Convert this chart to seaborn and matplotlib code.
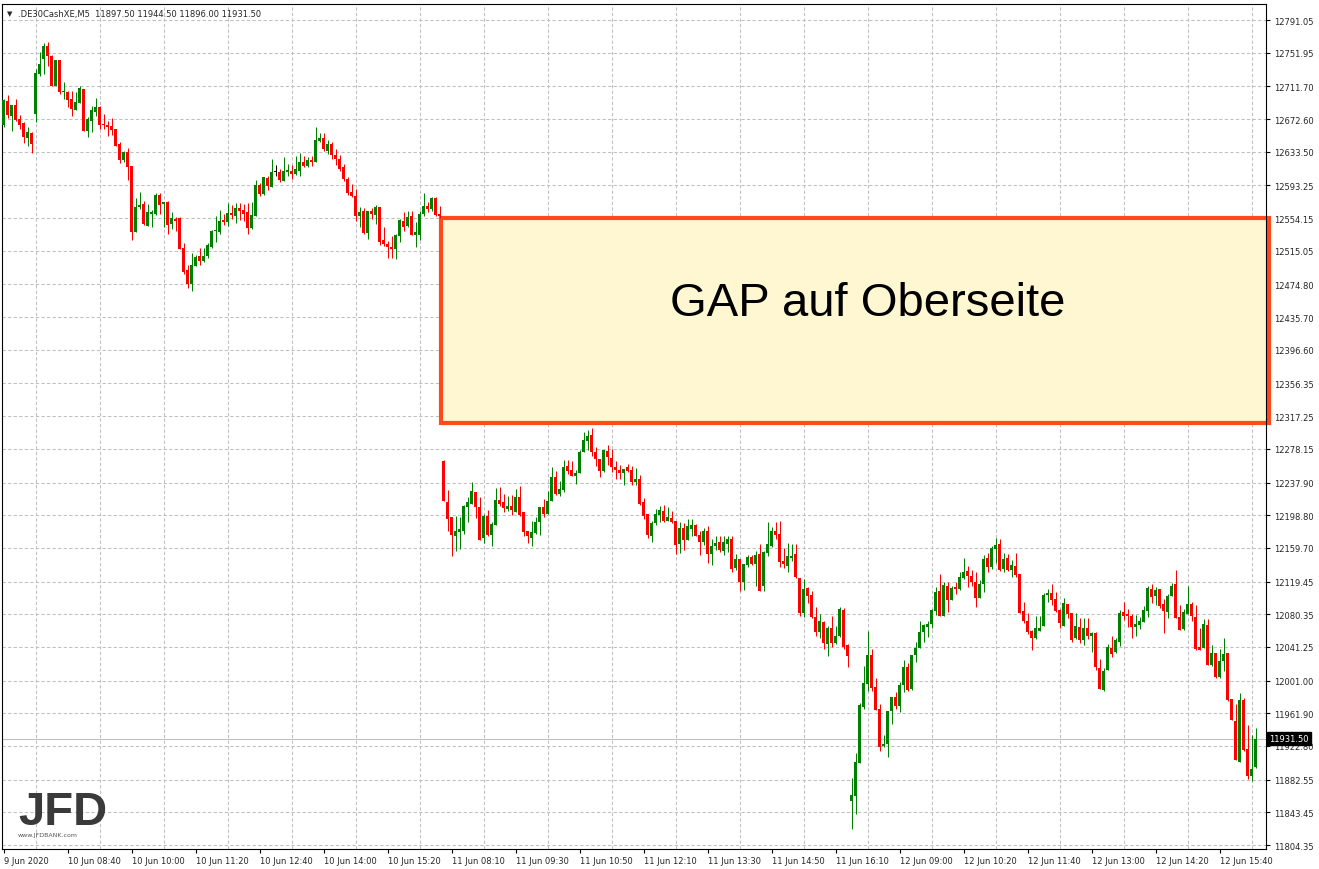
import numpy as np
import pandas as pd
import matplotlib
matplotlib.use("Agg")
import matplotlib.pyplot as plt
from matplotlib.patches import Rectangle
import seaborn as sns

# Style
sns.set_theme(style="white")
plt.rcParams['font.family'] = ['DejaVu Sans']
plt.rcParams['lines.scale_dashes'] = False

# DE30 M5 candles, 9 Jun 2020 15:45 .. 12 Jun 2020 16:25
opens = [
    12665.0, 12694.2, 12676.3, 12689.4, 12672.7, 12667.9, 12650.3, 12655.9, 12678.7, 12726.5,
    12744.4, 12759.6, 12748.4, 12712.5, 12743.2, 12704.6, 12704.6, 12696.6, 12683.8, 12691.8,
    12708.6, 12658.7, 12670.6, 12681.4, 12687.0, 12666.7, 12665.5, 12664.0, 12660.7, 12642.8,
    12624.0, 12632.9, 12616.1, 12537.2, 12567.1, 12571.0, 12545.1, 12559.1, 12559.1, 12581.8,
    12571.0, 12573.8, 12547.1, 12553.1, 12553.9, 12518.4, 12492.1, 12475.3, 12497.2, 12508.5,
    12503.2, 12509.2, 12520.0, 12538.7, 12537.9, 12551.9, 12549.9, 12559.9, 12557.0, 12566.2,
    12563.8, 12561.1, 12542.0, 12557.0, 12593.7, 12583.0, 12601.8, 12591.7, 12608.9, 12609.6,
    12598.9, 12609.6, 12610.8, 12606.9, 12610.8, 12621.6, 12616.8, 12623.6, 12621.6, 12646.7,
    12649.9, 12634.4, 12642.8, 12629.6, 12624.8, 12615.3, 12600.9, 12585.7, 12580.2, 12556.3,
    12562.3, 12536.0, 12562.3, 12558.2, 12567.8, 12527.8, 12523.2, 12519.9, 12517.2, 12533.1,
    12551.0, 12545.1, 12557.0, 12533.9, 12533.9, 12559.1, 12569.0, 12565.0, 12578.2, 12559.1,
    12264.0, 12215.0, 12196.3, 12174.3, 12179.1, 12180.3, 12208.3, 12212.2, 12226.9, 12208.3,
    12171.2, 12197.5, 12175.1, 12187.1, 12217.0, 12214.3, 12206.2, 12209.5, 12203.0, 12220.2,
    12202.3, 12179.6, 12171.2, 12177.5, 12190.3, 12208.3, 12200.3, 12216.2, 12244.2, 12224.2,
    12229.0, 12258.0, 12252.9, 12246.1, 12249.3, 12274.8, 12288.0, 12295.1, 12274.8, 12266.0,
    12252.0, 12276.0, 12267.2, 12256.8, 12253.2, 12249.3, 12256.8, 12253.2, 12238.2, 12242.1,
    12215.0, 12200.3, 12174.3, 12189.5, 12199.1, 12204.2, 12192.3, 12195.5, 12192.3, 12164.4,
    12183.5, 12169.2, 12182.3, 12187.1, 12175.1, 12167.1, 12179.9, 12152.4, 12162.4, 12167.1,
    12156.4, 12164.4, 12170.4, 12135.3, 12146.4, 12118.6, 12139.3, 12148.5, 12140.5, 12152.4,
    12113.8, 12153.6, 12162.4, 12180.3, 12176.3, 12144.4, 12138.4, 12147.6, 12152.4, 12123.7,
    12081.9, 12111.4, 12103.4, 12076.7, 12059.5, 12071.4, 12044.8, 12063.9, 12046.0, 12054.0,
    12085.4, 12043.6, 11857.4, 11862.6, 11902.5, 11969.1, 11996.9, 12031.6, 11993.0, 11967.0,
    11922.4, 11925.2, 11965.0, 11981.7, 11971.0, 11995.7, 12017.6, 11991.0, 12031.6, 12039.6,
    12059.5, 12065.5, 12068.7, 12084.6, 12108.5, 12078.6, 12114.5, 12097.8, 12112.6, 12110.6,
    12123.3, 12132.5, 12126.5, 12119.3, 12099.8, 12116.5, 12147.6, 12136.5, 12158.4, 12164.4,
    12134.5, 12147.6, 12133.7, 12137.7, 12128.5, 12084.6, 12072.6, 12060.7, 12051.6, 12060.7,
    12066.7, 12103.4, 12105.8, 12098.6, 12085.4, 12066.7, 12092.6, 12081.9, 12051.6, 12064.7,
    12049.9, 12063.6, 12054.7, 12057.6, 12015.7, 11990.1, 12014.1, 12039.6, 12035.6, 12047.5,
    12082.7, 12080.7, 12077.9, 12064.7, 12067.9, 12070.7, 12084.6, 12110.6, 12101.8, 12110.6,
    12092.6, 12083.4, 12101.8, 12116.5, 12076.7, 12062.7, 12080.7, 12092.6, 12076.7, 12040.8,
    12039.6, 12067.5, 12019.7, 12034.0, 12005.0, 12024.8, 12034.0, 11979.0, 11953.0, 11904.0,
    11977.8, 11919.2, 11887.3, 11897.5,
]
highs = [
    12696.6, 12701.4, 12689.4, 12696.6, 12677.5, 12669.5, 12663.1, 12656.8, 12732.5, 12752.4,
    12763.6, 12764.4, 12749.2, 12743.2, 12743.2, 12716.6, 12706.5, 12706.5, 12704.6, 12712.5,
    12708.6, 12674.7, 12687.9, 12697.4, 12688.6, 12678.7, 12670.6, 12673.9, 12660.7, 12645.5,
    12634.8, 12637.6, 12616.1, 12577.8, 12585.0, 12574.2, 12571.0, 12563.8, 12584.2, 12584.2,
    12573.8, 12575.0, 12561.1, 12555.1, 12555.1, 12524.4, 12498.1, 12512.4, 12510.0, 12518.0,
    12518.4, 12524.4, 12540.3, 12557.0, 12564.2, 12559.1, 12572.2, 12569.8, 12572.2, 12572.2,
    12571.0, 12572.2, 12573.0, 12599.7, 12596.1, 12603.7, 12604.9, 12624.8, 12617.6, 12612.9,
    12626.9, 12618.9, 12617.6, 12628.8, 12632.0, 12628.8, 12626.9, 12628.8, 12662.7, 12655.9,
    12655.9, 12647.6, 12645.2, 12636.8, 12629.6, 12618.9, 12603.3, 12594.9, 12589.0, 12567.1,
    12565.9, 12563.0, 12565.9, 12569.8, 12567.8, 12543.1, 12527.1, 12532.4, 12535.1, 12553.1,
    12561.1, 12562.3, 12562.3, 12549.1, 12563.0, 12584.2, 12573.8, 12579.0, 12579.8, 12568.3,
    12265.2, 12229.3, 12196.3, 12198.2, 12196.3, 12211.0, 12220.2, 12238.9, 12226.9, 12220.2,
    12200.3, 12205.4, 12190.3, 12231.4, 12232.2, 12224.2, 12221.4, 12223.0, 12230.2, 12234.1,
    12202.3, 12180.3, 12192.3, 12196.3, 12208.3, 12218.2, 12228.1, 12256.1, 12252.0, 12240.1,
    12264.8, 12264.8, 12263.3, 12253.2, 12277.2, 12298.7, 12300.7, 12302.8, 12280.8, 12266.0,
    12277.2, 12282.8, 12278.0, 12264.0, 12258.9, 12254.1, 12260.1, 12258.0, 12255.3, 12246.9,
    12219.0, 12200.3, 12192.3, 12206.2, 12209.5, 12211.0, 12208.3, 12203.5, 12192.3, 12191.1,
    12189.5, 12194.3, 12194.3, 12188.3, 12180.3, 12183.5, 12185.5, 12170.4, 12174.3, 12173.6,
    12174.3, 12174.3, 12173.6, 12152.4, 12146.4, 12140.5, 12151.2, 12151.2, 12156.4, 12164.4,
    12156.4, 12191.1, 12184.3, 12191.1, 12192.3, 12159.2, 12165.6, 12164.4, 12164.4, 12123.7,
    12122.5, 12112.6, 12108.5, 12089.4, 12080.7, 12072.6, 12066.7, 12078.6, 12066.7, 12089.4,
    12087.5, 12044.8, 11884.1, 11914.4, 11974.2, 12018.8, 12060.7, 12038.8, 12003.8, 11973.0,
    11935.9, 11965.0, 11981.7, 11987.0, 11999.7, 12025.6, 12022.1, 12031.6, 12046.8, 12071.9,
    12068.7, 12072.6, 12086.6, 12112.6, 12128.5, 12119.3, 12119.3, 12114.5, 12119.3, 12131.3,
    12147.6, 12138.5, 12133.6, 12130.5, 12121.3, 12151.2, 12153.6, 12162.4, 12171.6, 12170.4,
    12153.6, 12152.4, 12145.6, 12153.6, 12128.5, 12094.7, 12081.9, 12061.9, 12077.9, 12077.9,
    12105.8, 12110.6, 12116.5, 12106.6, 12086.6, 12099.8, 12092.6, 12081.9, 12081.9, 12075.5,
    12075.5, 12075.5, 12058.8, 12058.8, 12026.8, 12015.7, 12044.8, 12054.0, 12051.6, 12085.4,
    12095.4, 12086.6, 12080.7, 12079.5, 12077.4, 12090.6, 12114.5, 12116.5, 12112.6, 12110.6,
    12098.6, 12104.6, 12117.7, 12133.3, 12091.4, 12086.6, 12114.5, 12094.7, 12091.4, 12063.6,
    12074.7, 12074.7, 12043.6, 12034.0, 12038.8, 12052.0, 12034.0, 11979.0, 11973.0, 11986.2,
    11979.8, 11947.9, 11935.9, 11944.5,
]
lows = [
    12663.1, 12673.5, 12658.7, 12670.6, 12660.7, 12644.0, 12640.7, 12632.0, 12669.4, 12724.5,
    12726.5, 12735.7, 12711.8, 12712.5, 12702.6, 12696.6, 12687.4, 12676.6, 12683.8, 12691.8,
    12658.7, 12651.5, 12657.5, 12676.6, 12660.7, 12660.7, 12652.7, 12653.9, 12640.7, 12620.1,
    12621.6, 12600.1, 12528.3, 12537.2, 12565.0, 12545.9, 12545.1, 12543.9, 12557.9, 12559.1,
    12543.9, 12535.1, 12541.1, 12539.1, 12517.2, 12487.3, 12470.6, 12467.3, 12497.2, 12498.4,
    12501.3, 12506.1, 12518.8, 12525.9, 12535.1, 12545.9, 12545.1, 12553.1, 12548.3, 12551.9,
    12551.0, 12535.1, 12541.1, 12557.0, 12580.9, 12581.8, 12588.1, 12591.7, 12604.9, 12597.7,
    12598.9, 12604.1, 12600.9, 12605.7, 12604.1, 12614.9, 12614.9, 12616.8, 12621.6, 12644.8,
    12634.4, 12630.8, 12624.8, 12617.7, 12610.5, 12598.5, 12581.8, 12579.0, 12551.0, 12543.9,
    12535.1, 12529.2, 12553.1, 12547.1, 12522.3, 12521.2, 12506.4, 12506.4, 12505.2, 12525.9,
    12539.1, 12543.1, 12533.9, 12519.9, 12528.0, 12557.0, 12561.1, 12563.0, 12557.0, 12553.9,
    12216.2, 12180.3, 12149.7, 12156.4, 12158.4, 12176.3, 12190.3, 12212.2, 12195.1, 12169.5,
    12165.6, 12173.6, 12162.4, 12187.1, 12210.2, 12203.0, 12204.2, 12199.1, 12202.3, 12197.5,
    12173.6, 12165.6, 12162.4, 12176.3, 12175.1, 12196.3, 12200.3, 12216.2, 12223.0, 12222.2,
    12227.0, 12248.1, 12246.1, 12236.1, 12249.3, 12274.8, 12277.2, 12270.0, 12258.0, 12244.9,
    12250.8, 12259.2, 12250.1, 12242.1, 12242.1, 12235.3, 12250.1, 12235.0, 12235.0, 12211.0,
    12194.3, 12171.6, 12167.1, 12187.1, 12191.1, 12191.1, 12192.3, 12189.5, 12152.4, 12153.6,
    12157.2, 12169.2, 12174.3, 12173.6, 12151.2, 12163.2, 12141.7, 12139.3, 12157.6, 12154.4,
    12151.2, 12154.4, 12130.5, 12133.3, 12107.8, 12109.4, 12136.5, 12139.3, 12113.8, 12107.8,
    12107.8, 12149.7, 12161.2, 12170.4, 12137.3, 12135.7, 12131.3, 12144.4, 12123.3, 12078.6,
    12076.7, 12093.5, 12075.5, 12054.7, 12051.9, 12038.8, 12030.8, 12040.8, 12044.8, 12052.8,
    12038.8, 12017.6, 11823.5, 11841.5, 11902.5, 11967.0, 11988.9, 11988.9, 11966.2, 11916.8,
    11921.6, 11909.3, 11949.1, 11967.0, 11963.1, 11987.7, 11988.9, 11990.1, 12023.6, 12039.6,
    12047.5, 12052.8, 12063.6, 12079.5, 12078.6, 12078.6, 12082.7, 12097.8, 12104.6, 12109.4,
    12122.5, 12112.6, 12114.5, 12089.4, 12099.8, 12106.6, 12131.3, 12134.5, 12141.7, 12132.5,
    12130.5, 12131.7, 12124.5, 12125.3, 12081.9, 12069.5, 12056.7, 12038.0, 12050.8, 12060.7,
    12066.7, 12094.7, 12091.4, 12083.4, 12063.6, 12066.7, 12075.9, 12047.5, 12050.8, 12046.0,
    12043.6, 12050.8, 12035.6, 12014.0, 11991.0, 11988.9, 12014.1, 12028.9, 12033.7, 12042.0,
    12073.5, 12064.7, 12052.0, 12054.7, 12062.7, 12070.7, 12076.7, 12093.5, 12091.8, 12087.5,
    12057.6, 12075.5, 12101.8, 12075.5, 12061.9, 12061.9, 12080.7, 12072.6, 12038.0, 12038.0,
    12039.6, 12019.7, 12018.1, 12003.8, 12003.8, 12012.9, 11977.0, 11954.2, 11906.4, 11904.0,
    11917.2, 11883.3, 11881.5, 11896.0,
]
closes = [
    12695.8, 12677.5, 12689.4, 12671.8, 12665.5, 12651.5, 12656.8, 12642.8, 12727.7, 12738.5,
    12759.6, 12747.7, 12712.5, 12743.2, 12704.6, 12706.2, 12695.8, 12684.6, 12692.7, 12709.4,
    12658.7, 12672.7, 12683.4, 12687.0, 12665.9, 12665.5, 12663.5, 12659.9, 12640.7, 12624.0,
    12632.9, 12614.9, 12537.2, 12567.1, 12569.8, 12547.1, 12561.1, 12561.8, 12581.8, 12569.8,
    12573.8, 12545.9, 12553.9, 12551.0, 12517.2, 12489.3, 12475.3, 12498.1, 12507.3, 12503.2,
    12508.5, 12522.0, 12538.4, 12539.9, 12551.0, 12549.9, 12559.9, 12557.9, 12565.9, 12563.0,
    12559.1, 12542.0, 12557.9, 12593.7, 12583.0, 12602.9, 12592.9, 12608.9, 12608.9, 12599.7,
    12610.8, 12611.7, 12606.9, 12612.9, 12621.6, 12616.8, 12623.6, 12621.6, 12647.6, 12649.9,
    12636.8, 12642.8, 12629.6, 12624.8, 12612.9, 12600.9, 12584.2, 12580.2, 12557.0, 12561.8,
    12536.0, 12563.0, 12559.1, 12567.8, 12525.9, 12523.2, 12519.9, 12517.2, 12533.9, 12552.2,
    12543.9, 12555.1, 12533.9, 12537.9, 12559.1, 12568.3, 12565.0, 12578.2, 12557.9, 12557.0,
    12216.2, 12194.3, 12175.1, 12180.3, 12182.3, 12209.5, 12214.3, 12228.1, 12208.3, 12169.5,
    12198.2, 12175.1, 12188.3, 12217.0, 12212.2, 12207.1, 12209.5, 12205.4, 12220.2, 12199.1,
    12179.1, 12173.6, 12178.4, 12190.3, 12208.3, 12200.3, 12216.2, 12244.2, 12224.2, 12230.2,
    12256.1, 12251.3, 12246.1, 12249.3, 12274.8, 12288.8, 12293.2, 12274.1, 12266.0, 12252.0,
    12277.2, 12268.1, 12256.8, 12253.2, 12249.3, 12254.1, 12252.0, 12238.9, 12242.1, 12212.2,
    12198.2, 12175.1, 12189.5, 12200.3, 12205.0, 12192.3, 12196.7, 12190.3, 12163.2, 12183.5,
    12169.2, 12185.5, 12187.1, 12174.3, 12167.1, 12179.9, 12152.4, 12162.4, 12165.6, 12157.6,
    12167.1, 12170.4, 12134.5, 12146.4, 12118.6, 12140.5, 12149.2, 12140.5, 12151.2, 12108.5,
    12155.2, 12164.4, 12180.3, 12175.1, 12142.5, 12140.5, 12149.7, 12150.4, 12124.5, 12081.9,
    12110.6, 12102.6, 12076.7, 12059.5, 12072.6, 12046.0, 12063.9, 12046.0, 12054.7, 12086.6,
    12040.8, 12030.8, 11864.2, 11903.3, 11971.8, 11998.1, 12031.6, 11991.8, 11966.2, 11921.2,
    11925.2, 11965.0, 11981.0, 11971.0, 11995.7, 12017.6, 11990.1, 12031.6, 12040.0, 12058.8,
    12067.5, 12068.7, 12085.8, 12107.3, 12078.6, 12115.3, 12097.8, 12111.8, 12110.6, 12124.5,
    12131.3, 12126.5, 12119.3, 12099.8, 12116.5, 12146.4, 12137.2, 12159.6, 12163.6, 12133.7,
    12146.4, 12133.3, 12139.3, 12127.7, 12081.9, 12072.6, 12059.5, 12051.6, 12063.6, 12063.6,
    12103.4, 12105.8, 12097.8, 12084.6, 12069.5, 12093.8, 12080.7, 12049.9, 12065.9, 12049.9,
    12063.6, 12054.0, 12057.9, 12016.9, 11991.0, 12012.9, 12040.8, 12032.8, 12049.6, 12081.9,
    12078.6, 12078.6, 12064.7, 12068.7, 12072.6, 12085.4, 12111.8, 12100.6, 12109.7, 12090.6,
    12084.6, 12102.6, 12114.5, 12075.5, 12061.9, 12083.4, 12092.6, 12077.9, 12038.8, 12038.0,
    12068.7, 12019.7, 12034.0, 12005.0, 12024.8, 12032.8, 11977.8, 11954.2, 11906.4, 11977.8,
    11918.4, 11886.6, 11895.3, 11931.5,
]

price_ticks = [12791.05, 12751.95, 12711.70, 12672.60, 12633.50, 12593.25, 12554.15,
               12515.05, 12474.80, 12435.70, 12396.60, 12356.35, 12317.25, 12278.15,
               12237.90, 12198.80, 12159.70, 12119.45, 12080.35, 12041.25, 12001.00,
               11961.90, 11922.80, 11882.55, 11843.45, 11804.35]
time_labels = ["9 Jun 2020", "10 Jun 08:40", "10 Jun 10:00", "10 Jun 11:20", "10 Jun 12:40",
               "10 Jun 14:00", "10 Jun 15:20", "11 Jun 08:10", "11 Jun 09:30", "11 Jun 10:50",
               "11 Jun 12:10", "11 Jun 13:30", "11 Jun 14:50", "11 Jun 16:10", "12 Jun 09:00",
               "12 Jun 10:20", "12 Jun 11:40", "12 Jun 13:00", "12 Jun 14:20", "12 Jun 15:40"]
symbol = ".DE30CashXE,M5"
last_price = 11931.5
gap_top = 12554.2
gap_bottom = 12309.0
gap_start_bar = 109.25
gap_label = "GAP auf Oberseite"

df = pd.DataFrame({'open': opens, 'high': highs, 'low': lows, 'close': closes})
df['bar'] = np.arange(len(df))
df['color'] = np.where(df['close'] > df['open'], '#008000',
                       np.where(df['close'] < df['open'], '#ff0000', '#000000'))
df['body_low'] = df[['open', 'close']].min(axis=1)
df['body_h'] = (df['close'] - df['open']).abs().clip(lower=1.2)

fig = plt.figure(figsize=(13.19, 8.70), dpi=100)
ax = fig.add_axes([2 / 1319, 20 / 870, 1264 / 1319, 845 / 870])
# half-pixel shift so 3px bodies land on whole pixels
ax.set_xlim(-0.375, 315.625)
ax.set_ylim(11799.6, 12810.2)
ax.set_axisbelow(True)

# grid
grid_kw = dict(color='#c0c0c0', linewidth=0.75, linestyle=(0, (2.4, 1.6)))
ax.set_xticks(np.arange(0, len(df), 16))
ax.set_xticks(np.arange(0, 316, 8), minor=True)
ax.set_xticklabels(time_labels, ha='left', fontsize=6)
ax.set_yticks(price_ticks)
ax.set_yticklabels([f"{v:.2f}" for v in price_ticks], fontsize=6)
ax.grid(which='minor', axis='x', **grid_kw)
ax.grid(which='major', axis='y', **grid_kw)
ax.tick_params(axis='x', which='major', bottom=True, length=3, width=0.8, color='black', pad=2)
ax.tick_params(axis='x', which='minor', bottom=False, length=0)
ax.tick_params(axis='y', left=False, right=True, labelleft=False, labelright=True,
               length=3, width=0.8, color='black', pad=3)
for s in ax.spines.values():
    s.set_color('black')
    s.set_linewidth(0.8)

# gap box
ax.add_patch(Rectangle((gap_start_bar, gap_bottom), 316.3 - gap_start_bar, gap_top - gap_bottom,
                       facecolor='#fff7d1', edgecolor='#ff4a1c', linewidth=3,
                       zorder=2, clip_on=False))
ax.text(216.1, 12438.3, gap_label, fontsize=34, family=['Liberation Sans', 'DejaVu Sans'],
        ha='center', va='baseline', color='black', zorder=5)

# last price line
ax.axhline(last_price, color='#c0c0c0', linewidth=0.8, zorder=1)
ax.annotate(f"{last_price:.2f}", xy=(1, last_price), xycoords=('axes fraction', 'data'),
            xytext=(2.5, 0), textcoords='offset points', ha='left', va='center',
            fontsize=6, color='white', annotation_clip=False,
            bbox=dict(boxstyle='square,pad=0.25', fc='black', ec='black'))

# candles
ax.vlines(df['bar'], df['low'], df['high'], colors=df['color'], linewidth=0.72, zorder=3)
ax.bar(df['bar'], df['body_h'], bottom=df['body_low'], width=0.75, color=df['color'],
       linewidth=0, zorder=4)

# header
ax.text(0.004, 0.993, "\u25bc", transform=ax.transAxes, fontsize=5, va='top', ha='left')
ax.text(0.013, 0.994,
        f"{symbol}  {opens[-1]:.2f} {highs[-1]:.2f} {lows[-1]:.2f} {closes[-1]:.2f}",
        transform=ax.transAxes, fontsize=6, va='top', ha='left')

# logo
ax.text(0.0127, 0.0296, "JFD", transform=ax.transAxes, fontsize=34, fontweight='bold',
        family=['Liberation Sans', 'DejaVu Sans'], color='#3a3a3a', va='baseline', ha='left')
ax.text(0.0127, 0.0166, "www.JFDBANK.com", transform=ax.transAxes, fontsize=4.5,
        color='#555555', va='center', ha='left')

fig.savefig('out.png', dpi=100)
